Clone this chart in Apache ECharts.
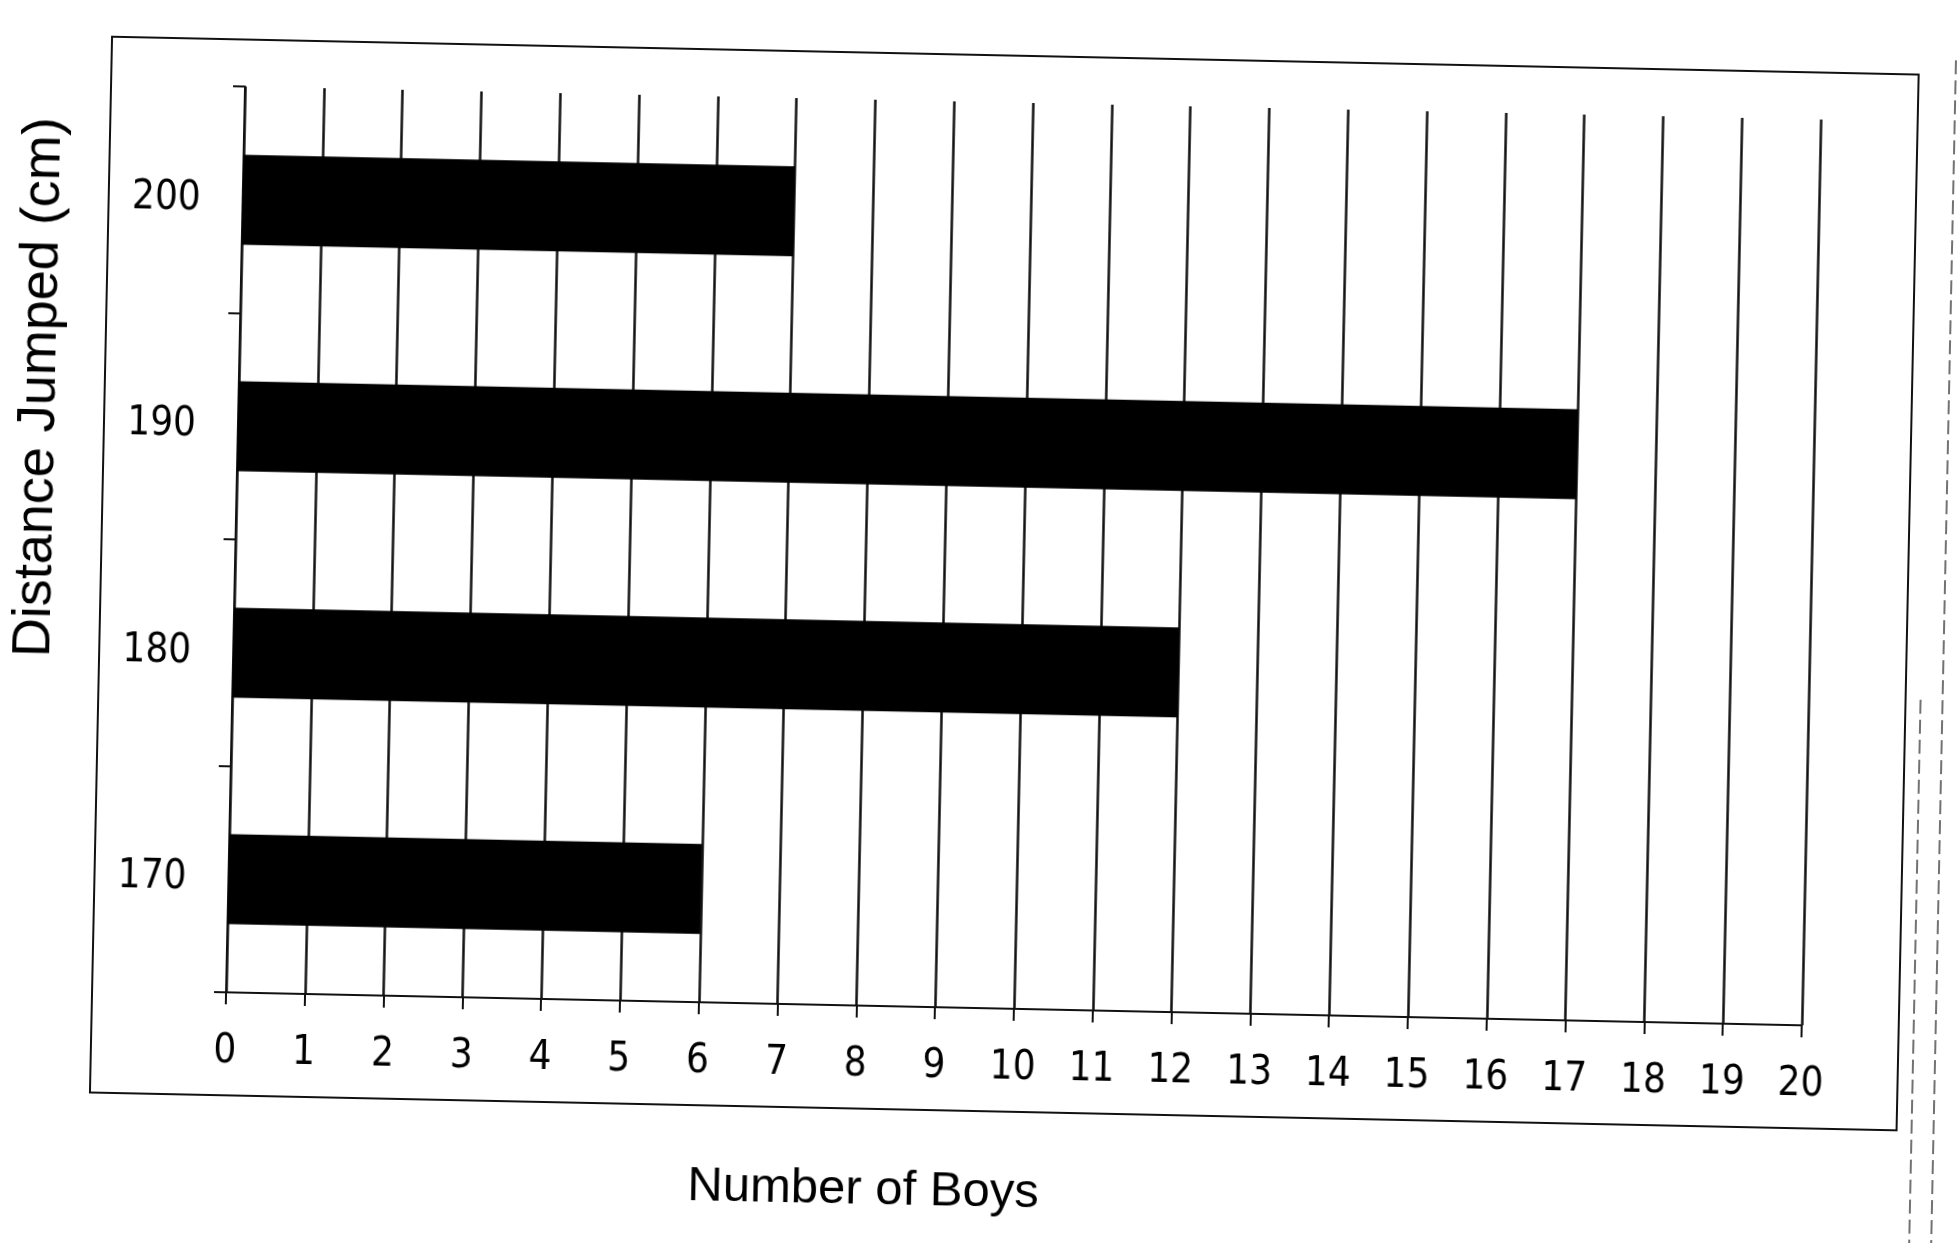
<!DOCTYPE html>
<html>
<head>
<meta charset="utf-8">
<script src="https://cdn.jsdelivr.net/npm/echarts@6/dist/echarts.min.js"></script>
<style>
  html, body { margin: 0; padding: 0; background: #fff; }
  #chart { width: 1957px; height: 1243px; transform: rotate(1.2deg); transform-origin: 50% 50%; }
</style>
</head>
<body>
<div id="chart"></div>
<script>
// Data
const distances = ['170', '180', '190', '200'];
const boys = [6, 12, 17, 7];
const xTitle = 'Number of Boys';
const yTitle = 'Distance Jumped (cm)';

const tickFont = '"Liberation Sans Narrow", "Arial Narrow", "DejaVu Sans Condensed", sans-serif';
const titleFont = '"Liberation Sans", Arial, sans-serif';

const chart = echarts.init(document.getElementById('chart'), null, { renderer: 'canvas' });
chart.setOption({
  backgroundColor: '#ffffff',
  animation: false,
  grid: { left: 231, top: 102, width: 1579, height: 906, containLabel: false },
  graphic: [{
    type: 'rect',
    shape: { x: 100, y: 55, width: 1807, height: 1056 },
    style: { fill: 'none', stroke: '#111', lineWidth: 2 },
    silent: true
  }, {
    type: 'line',
    shape: { x1: 1944, y1: 40, x2: 1944, y2: 1243 },
    style: { stroke: '#444', lineWidth: 1.5, lineDash: [14, 6] },
    silent: true
  }, {
    type: 'line',
    shape: { x1: 1922, y1: 680, x2: 1922, y2: 1243 },
    style: { stroke: '#444', lineWidth: 1.5, lineDash: [14, 6] },
    silent: true
  }],
  xAxis: {
    type: 'value',
    min: 0, max: 20, interval: 1,
    name: xTitle,
    nameLocation: 'middle',
    nameGap: 160,
    nameTextStyle: { fontFamily: titleFont, fontSize: 49, color: '#000', padding: [0, 294, 0, 0] },
    axisLine: { show: true, lineStyle: { color: '#111', width: 2 } },
    axisTick: { show: true, length: 12, lineStyle: { color: '#111', width: 2 } },
    axisLabel: { fontFamily: tickFont, fontSize: 40, color: '#000', margin: 40 },
    splitLine: { show: true, lineStyle: { color: '#111', width: 2.5 } }
  },
  yAxis: {
    type: 'category',
    data: distances,
    name: yTitle,
    nameLocation: 'middle',
    nameGap: 172,
    nameTextStyle: { fontFamily: titleFont, fontSize: 54, color: '#000', padding: [0, 0, 0, 296] },
    axisLine: { show: true, lineStyle: { color: '#111', width: 2 } },
    axisTick: { show: true, length: 12, alignWithLabel: false, lineStyle: { color: '#111', width: 2 } },
    axisLabel: { fontFamily: tickFont, fontSize: 40, color: '#000', margin: 42 },
    splitLine: { show: false }
  },
  series: [{
    type: 'bar',
    data: boys,
    barWidth: 90,
    itemStyle: { color: '#000' }
  }]
});
</script>
</body>
</html>
